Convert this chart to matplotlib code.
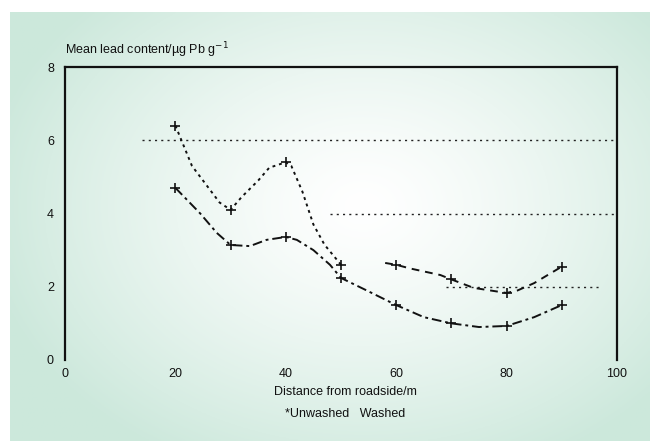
import numpy as np
import matplotlib
matplotlib.use("Agg")
import matplotlib.pyplot as plt

plt.rcParams['font.family'] = ['Liberation Sans', 'DejaVu Sans']

marker_x = [20, 30, 40, 50, 60, 70, 80, 90]
unwashed_a_x = [20, 23, 26, 28, 30, 32, 35, 37, 40, 41, 43, 45, 47, 50]
unwashed_a_y = [6.4, 5.3, 4.7, 4.3, 4.1, 4.45, 4.9, 5.25, 5.4, 5.3, 4.6, 3.7, 3.15, 2.6]
unwashed_b_x = [58, 60, 62.5, 68, 70, 74, 80, 82, 85, 90]
unwashed_b_y = [2.65, 2.6, 2.5, 2.32, 2.2, 1.97, 1.83, 1.9, 2.1, 2.55]
washed_x = [20, 24.5, 27.5, 30, 33.5, 36.5, 40, 42, 45, 48, 50, 54.5, 60, 65, 70, 75, 80, 85, 90]
washed_y = [4.7, 4.0, 3.47, 3.14, 3.11, 3.28, 3.36, 3.28, 3.0, 2.6, 2.24, 1.91, 1.5, 1.17,
            1.0, 0.9, 0.93, 1.17, 1.5]
x_ticks = [0, 20, 40, 60, 80, 100]
y_ticks = [0, 2, 4, 6, 8]

W, H = 650, 441
fig = plt.figure(figsize=(W / 100, H / 100), dpi=100)
fig.patch.set_facecolor('white')

# gradient background panel
bg = fig.add_axes([10 / W, 0, 1 - 10 / W, (H - 12) / H])
bg.set_axis_off()
ny, nx = 200, 300
yy, xx = np.mgrid[0:ny, 0:nx]
cx, cy = 0.55 * nx, 0.45 * ny
d = np.sqrt(((xx - cx) / nx) ** 2 * 1.0 + ((yy - cy) / ny) ** 2 * 0.8)
t = np.clip(d / 0.6, 0, 1) ** 1.3
c0 = np.array([1.0, 1.0, 1.0])
c1 = np.array([0.80, 0.91, 0.86])
img = c0[None, None, :] * (1 - t[..., None]) + c1[None, None, :] * t[..., None]
bg.imshow(img, aspect='auto', extent=[0, 1, 0, 1], origin='upper')
bg.set_xlim(0, 1)
bg.set_ylim(0, 1)

ax = fig.add_axes([65 / W, 1 - 360 / H, (617 - 65) / W, (360 - 67) / H])
ax.patch.set_alpha(0)
ax.set_xlim(0, 100)
ax.set_ylim(0, 8)
ax.spines['bottom'].set_visible(False)
for s in ['left', 'right', 'top']:
    ax.spines[s].set_linewidth(1.6)
    ax.spines[s].set_color('#111111')
ax.set_xticks(x_ticks)
ax.set_yticks(y_ticks)
ax.tick_params(length=0, labelsize=9, colors='#111111', pad=8)
ax.tick_params(axis='x', pad=6)

# dotted gridlines (partial, as in the reference)
ax.hlines(6, 14, 100, colors='#222222', linestyles=(0, (1.5, 3)), linewidth=1)
ax.hlines(4, 48, 100, colors='#222222', linestyles=(0, (1.5, 3)), linewidth=1)
ax.hlines(2, 69, 97, colors='#222222', linestyles=(0, (1.5, 3)), linewidth=1)

def marks(xs):
    return [i for i, v in enumerate(xs) if v in marker_x]

ax.plot(unwashed_a_x, unwashed_a_y, color='#111111', linestyle=(0, (1.5, 2)),
        linewidth=1.4, marker='+', markersize=7, markeredgewidth=1.2,
        markevery=marks(unwashed_a_x))
ax.plot(unwashed_b_x, unwashed_b_y, color='#111111', linestyle=(0, (4, 3)),
        linewidth=1.4, marker='+', markersize=7, markeredgewidth=1.2,
        markevery=marks(unwashed_b_x))
ax.plot(washed_x, washed_y, color='#111111', linestyle=(0, (5, 2, 1.5, 2)),
        linewidth=1.4, marker='+', markersize=7, markeredgewidth=1.2,
        markevery=marks(washed_x))

fig.text(65 / W, 1 - 50 / H, 'Mean lead content/µg Pb g$^{-1}$', fontsize=9,
         ha='left', va='center', color='#111111')
fig.text(345 / W, 1 - 392 / H, 'Distance from roadside/m', fontsize=9,
         ha='center', va='center', color='#111111')
fig.text(345 / W, 1 - 414 / H, '*Unwashed   Washed', fontsize=9,
         ha='center', va='center', color='#111111')

fig.savefig('out.png', dpi=100)
